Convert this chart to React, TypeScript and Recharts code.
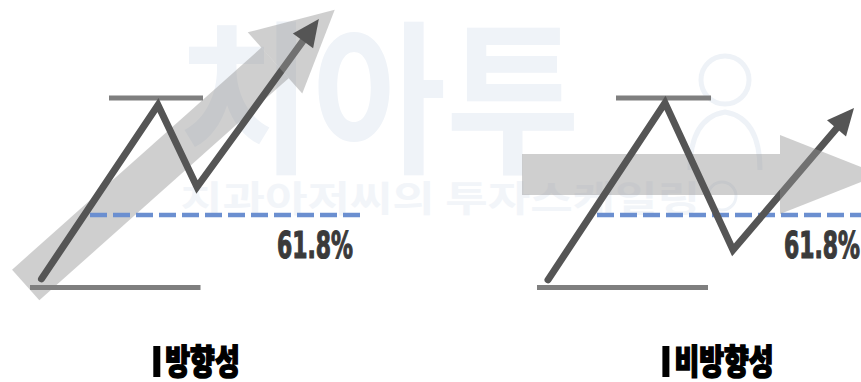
import React from 'react';
import { ComposedChart, Line, XAxis, YAxis, ReferenceLine, ReferenceDot } from 'recharts';

const W = 861;
const H = 382;

// x = time units, y = price as % of the swing (0 = swing low, 100 = swing high)
const panelLabels = ['방향성', '비방향성'];
const panelCenters = [19.65, 71.8];

// dark price path, last point = base of the arrow head
const trendTime = [4.15, 15.8, 19.7, 30.3];
const trendPrice = [4.5, 96.3, 53, 130.1];
const rangeTime = [54.8, 66.5, 73.3, 83.65];
const rangePrice = [4, 97.4, 19.8, 83.9];

// wide translucent direction arrows
const trendBandTime = [2.57, 27.5];
const trendBandPrice = [1.3, 118.5];
const rangeBandTime = [52.2, 78];
const rangeBandPrice = [59.6, 59.6];

const swingLow = 0;
const swingHigh = 100;
const retracement = 61.8;
const retraceLevel = swingHigh - (retracement / 100) * (swingHigh - swingLow);

const highStart = [10.9, 61.6];
const highEnd = [20.3, 71.1];
const lowStart = [3.0, 53.7];
const lowEnd = [20.05, 70.8];
const retraceStart = [9.0, 59.7];
const retraceEnd = [36.0, 86.1];
const retraceLabelTime = [27.7, 78.4];

const xDomain = [0, 86.1];
const yDomain = [-49.9, 151.7];

const zip = (t: number[], p: number[]) => t.map((v, i) => ({ t: v, p: p[i] }));

const trendData = zip(trendTime, trendPrice);
const rangeData = zip(rangeTime, rangePrice);
const trendBand = zip(trendBandTime, trendBandPrice);
const rangeBand = zip(rangeBandTime, rangeBandPrice);

const LINE = '#555555';
const BAND = '#949494';
const BAR = '#7f7f7f';
const DASH = '#6b8fd0';

// draws an arrow head at the last point of a line, pointing along the last segment
function arrowHead(len: number, width: number, fill: string, opacity: number) {
  return (props: any) => {
    const { cx, cy, index, points } = props;
    const key = `head-${index}`;
    if (!points || index === 0 || index !== points.length - 1) return <g key={key} />;
    const prev = points[index - 1];
    const dx = cx - prev.x;
    const dy = cy - prev.y;
    const d = Math.hypot(dx, dy) || 1;
    const ux = dx / d;
    const uy = dy / d;
    const nx = -uy;
    const ny = ux;
    const tip = `${cx + ux * len},${cy + uy * len}`;
    const a = `${cx + (nx * width) / 2},${cy + (ny * width) / 2}`;
    const b = `${cx - (nx * width) / 2},${cy - (ny * width) / 2}`;
    return <polygon key={key} points={`${a} ${tip} ${b}`} fill={fill} fillOpacity={opacity} stroke="none" />;
  };
}

// panel caption under each drawing: black bar + heavy condensed title
function panelCaption(label: string) {
  return (props: any) => {
    const textW = label.length * 24.8;
    const total = 7 + 5 + textW;
    const left = props.cx - total / 2;
    return (
      <g>
        <rect x={left} y={346} width={7} height={31} fill="#000" />
        <text
          x={left + 12}
          y={374}
          fontSize={34}
          fontWeight={900}
          fontFamily='"Noto Sans CJK KR", sans-serif'
          fill="#000"
          stroke="#000"
          strokeWidth={1.6}
          textLength={textW}
          lengthAdjust="spacingAndGlyphs"
        >
          {label}
        </text>
      </g>
    );
  };
}

const percentLabel = (props: any) => (
  <text
    x={props.cx}
    y={props.cy + 43}
    fontSize={38}
    fontWeight={700}
    fontFamily='"Liberation Sans Narrow", "DejaVu Sans Condensed", sans-serif'
    fill="#3a3a3a"
    stroke="#3a3a3a"
    strokeWidth={1.2}
    textLength={76}
    lengthAdjust="spacingAndGlyphs"
  >
    {`${retracement}%`}
  </text>
);

function Watermark() {
  return (
    <svg width={W} height={H} style={{ position: 'absolute', left: 0, top: 0 }}>
      <text
        x={178}
        y={160}
        fontSize={165}
        fontWeight={700}
        fontFamily='"Noto Sans CJK KR", sans-serif'
        fill="#eff3f8"
        textLength={402}
        lengthAdjust="spacingAndGlyphs"
      >
        치아투
      </text>
      <text
        x={180}
        y={212}
        fontSize={36}
        fontWeight={700}
        fontFamily='"Noto Sans CJK KR", sans-serif'
        fill="#f2f5f9"
        textLength={520}
        lengthAdjust="spacingAndGlyphs"
      >
        치과아저씨의 투자스케일링
      </text>
      <g fill="none" stroke="#eef2f7" strokeWidth={5}>
        <circle cx={725} cy={80} r={24} />
        <path d="M690 170 Q690 118 725 112 Q760 118 760 170" />
        <circle cx={722} cy={196} r={14} strokeWidth={3} />
      </g>
    </svg>
  );
}

export default function App() {
  return (
    <div style={{ position: 'absolute', left: 0, top: 0, width: W, height: H, background: '#fff', overflow: 'hidden' }}>
      <Watermark />
      <div style={{ position: 'absolute', left: 0, top: 0 }}>
        <ComposedChart width={W} height={H} margin={{ top: 0, right: 0, bottom: 0, left: 0 }}>
          <XAxis type="number" dataKey="t" domain={xDomain} allowDataOverflow hide height={0} />
          <YAxis type="number" dataKey="p" domain={yDomain} allowDataOverflow hide width={0} />

          <Line
            data={trendBand}
            dataKey="p"
            stroke={BAND}
            strokeOpacity={0.45}
            strokeWidth={41}
            strokeLinecap="butt"
            dot={arrowHead(80, 82, BAND, 0.45)}
            activeDot={false}
            isAnimationActive={false}
          />
          <Line
            data={rangeBand}
            dataKey="p"
            stroke={BAND}
            strokeOpacity={0.45}
            strokeWidth={41}
            strokeLinecap="butt"
            dot={arrowHead(100, 79, BAND, 0.45)}
            activeDot={false}
            isAnimationActive={false}
          />

          {highStart.map((s, i) => (
            <ReferenceLine
              key={`hi-${i}`}
              segment={[{ x: s, y: swingHigh }, { x: highEnd[i], y: swingHigh }]}
              stroke={BAR}
              strokeWidth={5}
            />
          ))}
          {lowStart.map((s, i) => (
            <ReferenceLine
              key={`lo-${i}`}
              segment={[{ x: s, y: swingLow }, { x: lowEnd[i], y: swingLow }]}
              stroke={BAR}
              strokeWidth={5}
            />
          ))}
          {retraceStart.map((s, i) => (
            <ReferenceLine
              key={`fib-${i}`}
              segment={[{ x: s, y: retraceLevel }, { x: retraceEnd[i], y: retraceLevel }]}
              stroke={DASH}
              strokeWidth={4.5}
              strokeDasharray="17 6"
            />
          ))}

          <Line
            data={trendData}
            dataKey="p"
            stroke={LINE}
            strokeWidth={7}
            strokeLinecap="round"
            strokeLinejoin="miter"
            dot={arrowHead(27, 25, LINE, 1)}
            activeDot={false}
            isAnimationActive={false}
          />
          <Line
            data={rangeData}
            dataKey="p"
            stroke={LINE}
            strokeWidth={7}
            strokeLinecap="round"
            strokeLinejoin="miter"
            dot={arrowHead(27, 25, LINE, 1)}
            activeDot={false}
            isAnimationActive={false}
          />

          {retraceLabelTime.map((t, i) => (
            <ReferenceDot key={`lbl-${i}`} x={t} y={retraceLevel} r={0} shape={percentLabel} />
          ))}
          {panelCenters.map((t, i) => (
            <ReferenceDot key={`cap-${i}`} x={t} y={swingLow} r={0} shape={panelCaption(panelLabels[i])} />
          ))}
        </ComposedChart>
      </div>
    </div>
  );
}
